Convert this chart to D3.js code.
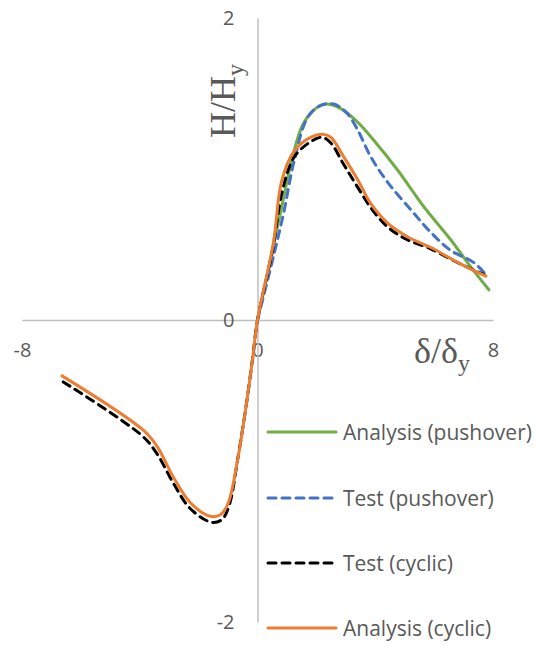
<!DOCTYPE html>
<html>
<head>
<meta charset="utf-8">
<script src="https://cdn.jsdelivr.net/npm/d3@7"></script>
<style>
  body { margin: 0; background: #fff; }
  svg { display: block; }
</style>
</head>
<body>
<script>
// ---------- data ----------
var pushAnaX = [0, 0.78, 1.19, 1.53, 1.91, 2.31, 2.83, 3.40, 3.95, 4.77, 5.65, 6.57, 7.25, 7.86];
var pushAnaY = [0, 0.71, 1.08, 1.29, 1.39, 1.43, 1.40, 1.31, 1.19, 0.99, 0.75, 0.53, 0.35, 0.20];

var pushTestX = [0, 0.54, 0.89, 1.23, 1.70, 2.14, 2.59, 3.04, 3.40, 3.85, 4.43, 5.21, 5.89, 6.57, 7.35, 7.76];
var pushTestY = [0, 0.42, 0.71, 1.04, 1.34, 1.42, 1.43, 1.37, 1.26, 1.08, 0.91, 0.73, 0.58, 0.46, 0.38, 0.30];

var cycTestX = [-6.6, -3.9, -3.4, -2.86, -2.28, -1.55, -1.2, -0.95, -0.68, -0.41, -0.17, 0, 0.5, 0.85, 1.25, 1.8, 2.2, 2.5, 2.9, 3.4, 3.9, 4.4, 5.0, 5.9, 6.8, 7.7];
var cycTestY = [-0.41, -0.77, -0.89, -1.08, -1.25, -1.34, -1.32, -1.22, -0.93, -0.60, -0.26, 0, 0.45, 0.86, 1.08, 1.18, 1.21, 1.17, 1.04, 0.88, 0.73, 0.62, 0.54, 0.47, 0.38, 0.30];

var cycAnaX = [-6.64, -3.88, -3.40, -2.86, -2.28, -1.60, -1.26, -0.99, -0.68, -0.41, -0.17, 0, 0.54, 0.82, 1.25, 1.80, 2.21, 2.49, 2.93, 3.40, 3.85, 4.43, 5.11, 5.89, 6.81, 7.76];
var cycAnaY = [-0.37, -0.73, -0.84, -1.04, -1.21, -1.30, -1.29, -1.21, -0.93, -0.60, -0.26, 0, 0.51, 0.92, 1.12, 1.21, 1.23, 1.21, 1.08, 0.93, 0.77, 0.64, 0.55, 0.48, 0.38, 0.29];

var xTicks = [-8, 0, 8];
var yTicks = [-2, 0, 2];

var seriesNames = ["Analysis (pushover)", "Test (pushover)", "Test (cyclic)", "Analysis (cyclic)"];

// ---------- svg ----------
var W = 536, H = 653;
var svg = d3.select("body").append("svg")
  .attr("width", W)
  .attr("height", H);

var x = d3.scaleLinear().domain([-8, 8]).range([22, 493]);
var y = d3.scaleLinear().domain([-2, 2]).range([622, 18]);

var sans = "'Open Sans', 'Noto Sans', sans-serif";
var grey = "#595959";

// axes crossing at the origin
var xAxis = svg.append("g")
  .attr("transform", "translate(0," + y(0) + ")")
  .call(d3.axisBottom(x).tickValues(xTicks).tickSize(0).tickPadding(23).tickFormat(d3.format("d")));
var yAxis = svg.append("g")
  .attr("transform", "translate(" + x(0) + ",0)")
  .call(d3.axisLeft(y).tickValues(yTicks).tickSize(0).tickPadding(23).tickFormat(d3.format("d")));

[xAxis, yAxis].forEach(function(a){
  a.select(".domain").attr("stroke", "#bfbfbf").attr("stroke-width", 1.5);
  a.selectAll("text")
    .style("font-family", sans)
    .style("font-size", "20px")
    .attr("fill", grey);
});
yAxis.selectAll("text").attr("dy", "0.34em");
xAxis.selectAll("text").text(function(d){ return d < 0 ? "-" + Math.abs(d) : d; });
yAxis.selectAll("text").text(function(d){ return d < 0 ? "-" + Math.abs(d) : d; });

// axis titles (serif, with subscripts)
var serif = "'Liberation Serif', 'DejaVu Serif', serif";
var yt = svg.append("text")
  .attr("transform", "translate(235,101) rotate(-90)")
  .attr("text-anchor", "middle")
  .style("font-family", serif)
  .style("font-size", "36px")
  .attr("fill", grey);
yt.append("tspan").text("H/H");
yt.append("tspan").attr("dy", 8).style("font-size", "24px").text("y");

var xt = svg.append("text")
  .attr("x", 414)
  .attr("y", 363)
  .style("font-family", serif)
  .style("font-size", "36px")
  .attr("fill", grey);
xt.append("tspan").text("δ/δ");
xt.append("tspan").attr("dy", 8).style("font-size", "24px").text("y");

// ---------- lines ----------
function zip(xs, ys){
  return xs.map(function(v, i){ return [v, ys[i]]; });
}

var line = d3.line()
  .x(function(d){ return x(d[0]); })
  .y(function(d){ return y(d[1]); })
  .curve(d3.curveCatmullRom.alpha(0.5));

var series = [
  {data: zip(pushAnaX, pushAnaY),   color: "#70ad47", dash: null},
  {data: zip(pushTestX, pushTestY), color: "#4472c4", dash: "8,6"},
  {data: zip(cycTestX, cycTestY),   color: "#000000", dash: "8,6"},
  {data: zip(cycAnaX, cycAnaY),     color: "#ed7d31", dash: null}
];

svg.append("g").selectAll("path")
  .data(series)
  .enter()
  .append("path")
  .attr("d", function(d){ return line(d.data); })
  .attr("fill", "none")
  .attr("stroke", function(d){ return d.color; })
  .attr("stroke-width", 3)
  .attr("stroke-linecap", "round")
  .attr("stroke-linejoin", "round")
  .attr("stroke-dasharray", function(d){ return d.dash; });

// ---------- legend ----------
var rowY = [432, 498, 563, 628];
var leg = svg.append("g").selectAll("g")
  .data(series)
  .enter()
  .append("g")
  .attr("transform", function(d, i){ return "translate(0," + rowY[i] + ")"; });

leg.append("line")
  .attr("x1", 268).attr("x2", 336)
  .attr("y1", 0).attr("y2", 0)
  .attr("stroke", function(d){ return d.color; })
  .attr("stroke-width", 3)
  .attr("stroke-linecap", "round")
  .attr("stroke-dasharray", function(d){ return d.dash; });

leg.append("text")
  .attr("x", 343)
  .attr("y", 0)
  .attr("dy", "0.36em")
  .style("font-family", sans)
  .style("font-size", "21px")
  .attr("fill", grey)
  .text(function(d, i){ return seriesNames[i]; });
</script>
</body>
</html>
